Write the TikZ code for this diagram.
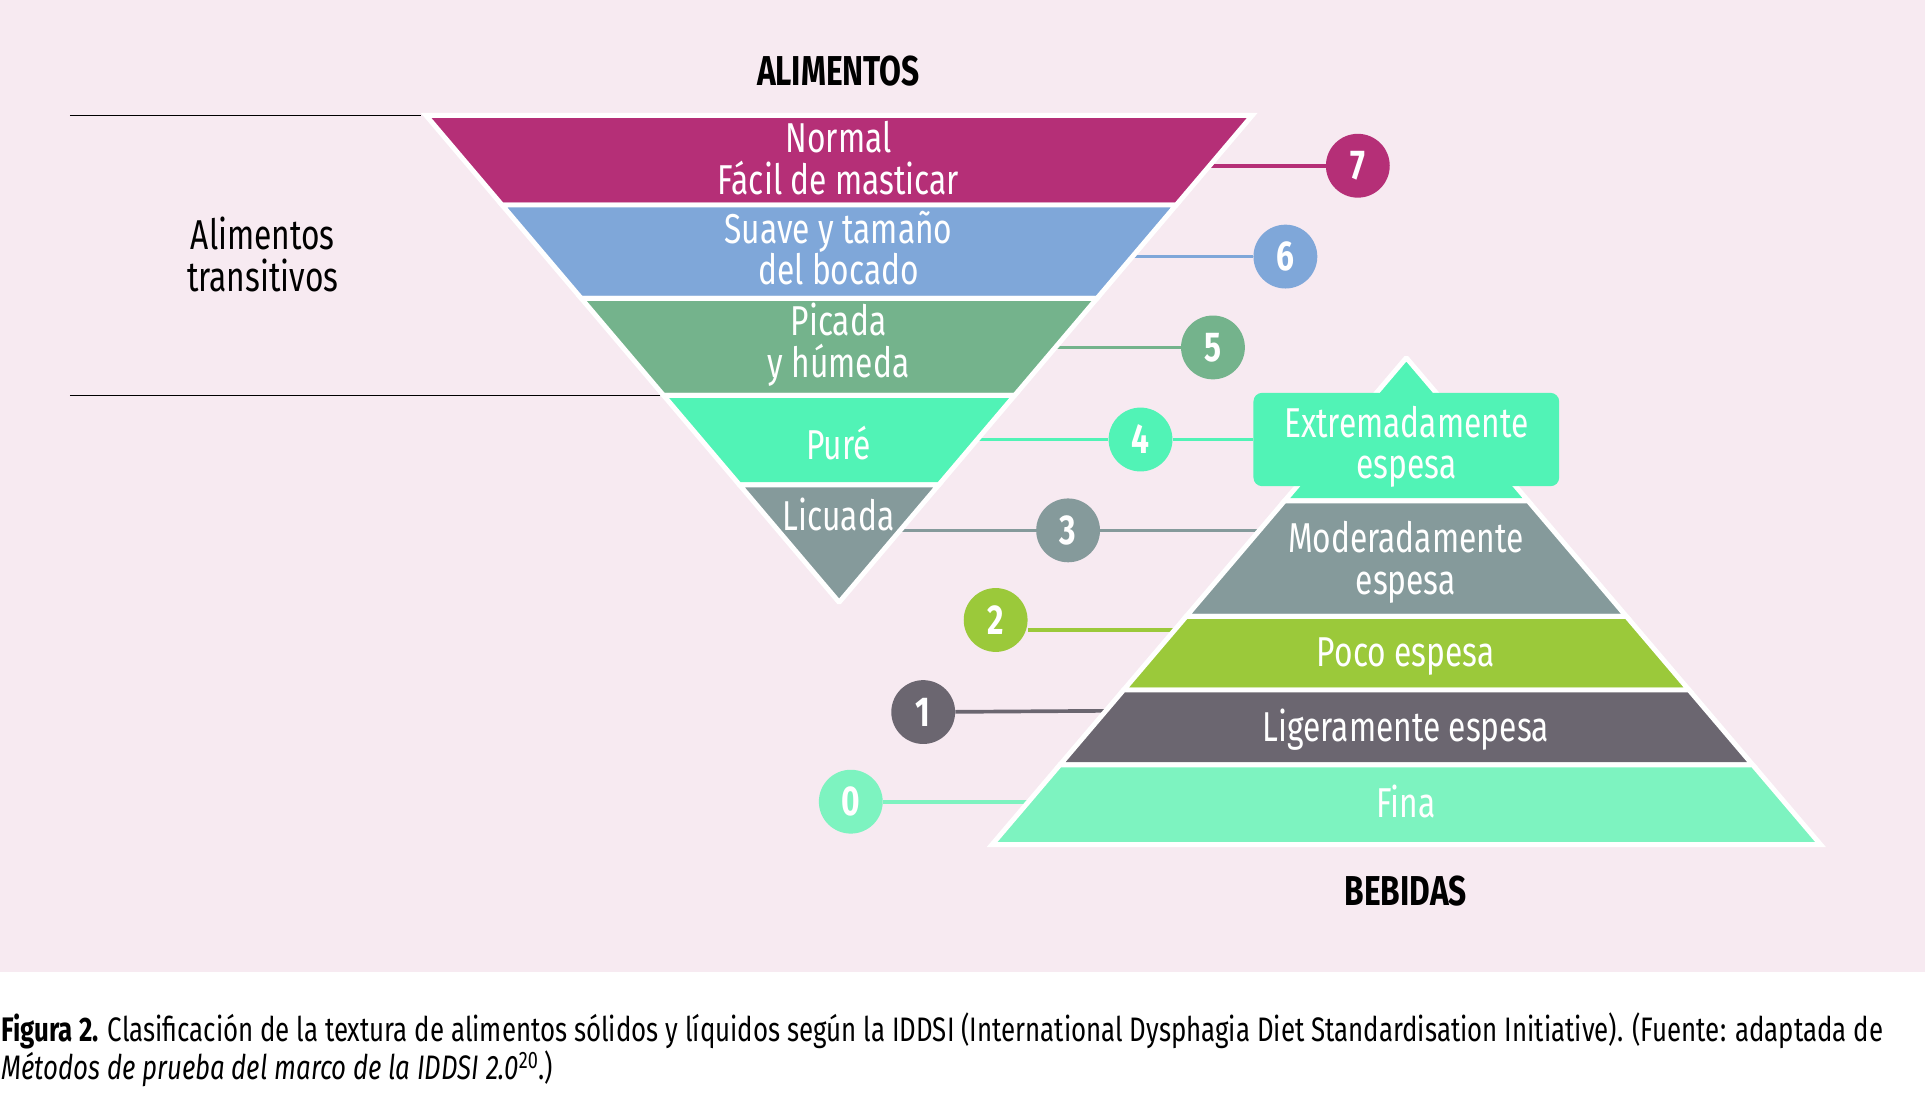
\documentclass[tikz,border=0pt]{standalone}
\usepackage{fontspec}
\setmainfont{Fira Sans}[FakeStretch=0.76]
\usetikzlibrary{positioning,backgrounds}
\definecolor{bgpink}{HTML}{F7EAF1}
\definecolor{lvlseven}{HTML}{B52F77}
\definecolor{lvlsix}{HTML}{7FA7D9}
\definecolor{lvlfive}{HTML}{74B38C}
\definecolor{lvlfour}{HTML}{51F3B6}
\definecolor{lvlthree}{HTML}{859A9B}
\definecolor{lvltwo}{HTML}{9BC93A}
\definecolor{lvlone}{HTML}{6B6670}
\definecolor{lvlzero}{HTML}{7DF3C0}
\tikzset{
  band/.style={draw=white, line width=4pt},
  bandtext/.style={text=white, font=\fontsize{34}{34}\selectfont, align=center, inner sep=0pt},
  lvl/.style={circle, minimum size=52pt, inner sep=0pt, text=white, font=\fontsize{34}{34}\selectfont\bfseries},
  conn/.style={line width=3pt},
  heading/.style={font=\fontsize{34}{34}\selectfont\bfseries, inner sep=0pt},
}

\begin{document}
\begin{tikzpicture}[x=1pt,y=-1pt]
\useasboundingbox (0,0) rectangle (1568,894);
\begin{scope}[on background layer]
\fill[white] (0,0) rectangle (1568,894);
\fill[bgpink] (0,0) rectangle (1568,792);
\end{scope}

% headings
\node[heading] (food) at (683,58) {ALIMENTOS};
\node[heading] (drink) at (1145,726) {BEBIDAS};

% transitional foods bracket
\draw[line width=1.2pt] (57,94) -- (343,94);
\draw[line width=1.2pt] (57,322) -- (538,322);
\node[font=\fontsize{34}{34}\selectfont, align=center, inner sep=0pt] (trans) at (214,207) {Alimentos\\transitivos};

% edge points for the connectors
\coordinate (e7) at (985,135);
\coordinate (e6) at (922,209);
\coordinate (e5) at (860,283);
\coordinate (e4) at (796,358);
\coordinate (e3) at (733,432);
\coordinate (b3) at (1026,432);
\coordinate (b2) at (956,513);
\coordinate (b1) at (901,579);
\coordinate (b0) at (838,653);

% level circles
\node[lvl, fill=lvlseven] (n7) at (1106,135) {7};
\node[lvl, fill=lvlsix] (n6) at (1047,209) {6};
\node[lvl, fill=lvlfive] (n5) at (988,283) {5};
\node[lvl, fill=lvlfour] (n4) at (929,358) {4};
\node[lvl, fill=lvlthree] (n3) at (870,432) {3};
\node[lvl, fill=lvltwo] (n2) at (811,505) {2};
\node[lvl, fill=lvlone] (n1) at (752,580) {1};
\node[lvl, fill=lvlzero] (n0) at (693,653) {0};

% connectors
\begin{scope}[on background layer]
\draw[conn, lvlseven] (e7) -- (n7);
\draw[conn, lvlsix] (e6) -- (n6);
\draw[conn, lvlfive] (e5) -- (n5);
\draw[conn, lvlfour] (e4) -- (n4);
\draw[conn, lvlfour] (n4) -- (1021,358);
\draw[conn, lvlthree] (e3) -- (n3);
\draw[conn, lvlthree] (n3) -- (b3);
\draw[conn, lvltwo] (n2.east |- b2) -- (b2);
\draw[conn, lvlone] (n1) -- (b1);
\draw[conn, lvlzero] (n0) -- (b0);
\end{scope}

% foods: inverted pyramid
\foreach \ya/\yb/\col in {94/167/lvlseven, 167/243/lvlsix, 243/322/lvlfive, 322/395/lvlfour, 395/490/lvlthree}
  \filldraw[band, fill=\col] ({347+0.8485*(\ya-94)},\ya) -- ({1020-0.8485*(\ya-94)},\ya)
    -- ({1020-0.8485*(\yb-94)},\yb) -- ({347+0.8485*(\yb-94)},\yb) -- cycle;

% drinks: pyramid
\foreach \ya/\yb/\col in {292/408/lvlfour, 408/502/lvlthree, 502/562/lvltwo, 562/623/lvlone, 623/688/lvlzero}
  \filldraw[band, fill=\col] ({808+0.851*(688-\ya)},\ya) -- ({1483-0.851*(688-\ya)},\ya)
    -- ({1483-0.851*(688-\yb)},\yb) -- ({808+0.851*(688-\yb)},\yb) -- cycle;

\node[fill=lvlfour, rounded corners=7pt, minimum width=249pt, minimum height=76pt] (xbox) at (1145.5,358) {};

% band labels
\node[bandtext] (t7) at (683,129) {Normal\\Fácil de masticar};
\node[bandtext] (t6) at (683,202) {Suave y tamaño\\del bocado};
\node[bandtext] (t5) at (683,281) {Picada\\y húmeda};
\node[bandtext] (t4) at (683,361) {Puré};
\node[bandtext] (t3) at (683,419) {Licuada};
\node[bandtext] (d4) at (1145.5,364) {Extremadamente\\espesa};
\node[bandtext] (d3) at (1145,458) {Moderadamente\\espesa};
\node[bandtext] (d2) at (1145,535) {Poco espesa};
\node[bandtext] (d1) at (1145,594) {Ligeramente espesa};
\node[bandtext] (d0) at (1145,653) {Fina};

% caption
\node[anchor=west, align=left, inner sep=0pt, font=\fontsize{27.7}{31}\selectfont] (cap) at (1,855)
  {\textbf{Figura 2.} Clasificación de la textura de alimentos sólidos y líquidos según la IDDSI (International Dysphagia Diet Standardisation Initiative). (Fuente: adaptada de\\\textit{Métodos de prueba del marco de la IDDSI 2.0}\textsuperscript{20}.)};
\end{tikzpicture}
\end{document}
